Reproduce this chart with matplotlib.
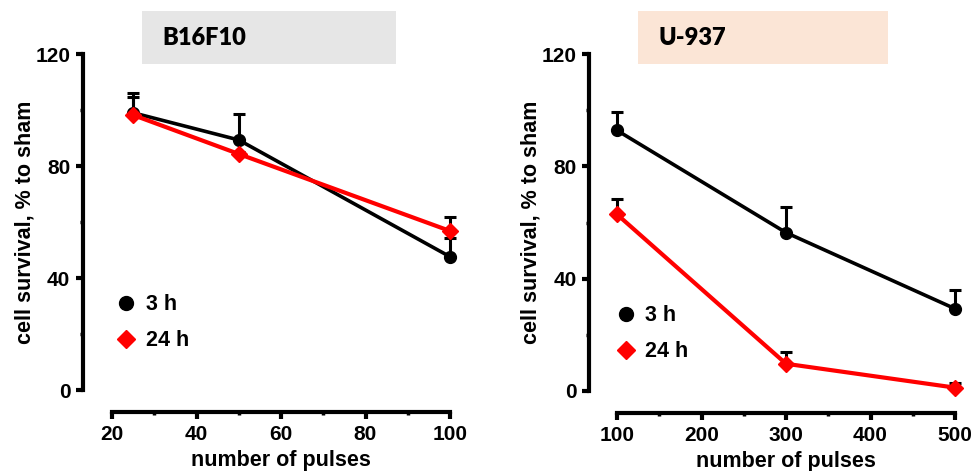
import matplotlib
matplotlib.use("Agg")
import matplotlib.pyplot as plt
from matplotlib.lines import Line2D
from matplotlib.patches import Rectangle
from matplotlib.ticker import MultipleLocator

plt.rcParams['font.family'] = ['Liberation Sans', 'DejaVu Sans']
plt.rcParams['font.weight'] = 'bold'

# B16F10 panel
b16_pulses = [25, 50, 100]
b16_3h = [99.0, 89.3, 47.6]
b16_3h_err = [7.2, 9.2, 6.6]
b16_24h = [98.2, 84.3, 56.8]
b16_24h_err = [6.5, 0.8, 4.9]

# U-937 panel
u937_pulses = [100, 300, 500]
u937_3h = [92.8, 56.4, 29.3]
u937_3h_err = [6.6, 9.2, 6.6]
u937_24h = [62.9, 9.7, 1.2]
u937_24h_err = [5.6, 4.2, 1.8]

series_labels = ['3 h', '24 h']
panel_titles = ['B16F10', 'U-937']
title_colors = ['#e6e6e6', '#fbe5d6']

W, H = 974, 471
fig = plt.figure(figsize=(W / 100, H / 100), dpi=100)

def px_axes(x0, x1, y0, y1):
    return fig.add_axes([x0 / W, 1 - y1 / H, (x1 - x0) / W, (y1 - y0) / H])

ax1 = px_axes(112, 450, 54, 390)
ax2 = px_axes(617, 955, 54, 391)

def draw_panel(ax, x, m3, e3, m24, e24, xlim, xmajor, xminor, left_out, leg_xy):
    ax.errorbar(x, m3, yerr=[[0] * len(e3), e3], color='black', lw=2.6,
                marker='o', ms=8.5, elinewidth=2.2, capsize=4.5, capthick=2.2,
                ecolor='black', clip_on=False, zorder=3)
    ax.errorbar(x, m24, yerr=[[0] * len(e24), e24], color='#ff0000', lw=3,
                marker='D', ms=8, mec='#ff0000', elinewidth=2.2, capsize=4.5,
                capthick=2.2, ecolor='black', clip_on=False, zorder=4)
    ax.set_xlim(*xlim)
    ax.set_ylim(0, 120)
    ax.set_yticks([0, 40, 80, 120])
    ax.yaxis.set_minor_locator(MultipleLocator(20))
    ax.xaxis.set_major_locator(MultipleLocator(xmajor))
    ax.xaxis.set_minor_locator(MultipleLocator(xminor))
    for s in ['top', 'right']:
        ax.spines[s].set_visible(False)
    ax.spines['left'].set_position(('outward', left_out))
    ax.spines['bottom'].set_position(('outward', 15.5))
    ax.spines['left'].set_linewidth(3)
    ax.spines['bottom'].set_linewidth(3)
    ax.spines['left'].set_bounds(0, 120)
    ax.tick_params(which='major', direction='out', length=5, width=3,
                   labelsize=15, pad=4)
    ax.tick_params(which='minor', direction='out', length=2.5, width=2.5)
    ax.tick_params(axis='x', which='major', pad=5)
    for lab in ax.get_xticklabels() + ax.get_yticklabels():
        lab.set_fontweight('bold')
    ax.set_xlabel('number of pulses', fontsize=15.5, fontweight='bold', labelpad=4)
    ax.set_ylabel('cell survival, % to sham', fontsize=15.5, fontweight='bold',
                  labelpad=0)
    handles = [Line2D([], [], color='black', marker='o', ls='none', ms=10),
               Line2D([], [], color='#ff0000', marker='D', ls='none', ms=9.5)]
    ax.legend(handles, series_labels, loc='upper left', bbox_to_anchor=leg_xy,
              frameon=False, handlelength=1.0, handletextpad=0.4,
              borderpad=0, borderaxespad=0, labelspacing=0.7,
              prop={'weight': 'bold', 'size': 15.5})

draw_panel(ax1, b16_pulses, b16_3h, b16_3h_err, b16_24h, b16_24h_err,
           (20, 100), 20, 10, 21, (0.01, 0.285))
draw_panel(ax2, u937_pulses, u937_3h, u937_3h_err, u937_24h, u937_24h_err,
           (100, 500), 100, 50, 20, (-0.005, 0.255))

# title boxes
boxes = [(142, 396), (638, 888)]
for (bx0, bx1), title, col in zip(boxes, panel_titles, title_colors):
    fig.patches.append(Rectangle((bx0 / W, 1 - 64 / H), (bx1 - bx0) / W, 53 / H,
                                 transform=fig.transFigure, facecolor=col,
                                 edgecolor='none', zorder=0))
    fig.text((bx0 + 20) / W, 1 - 38 / H, title, fontsize=17, fontweight='heavy',
             family=['Lato', 'DejaVu Sans'], va='center', ha='left')

fig.savefig('out.png', dpi=100)
